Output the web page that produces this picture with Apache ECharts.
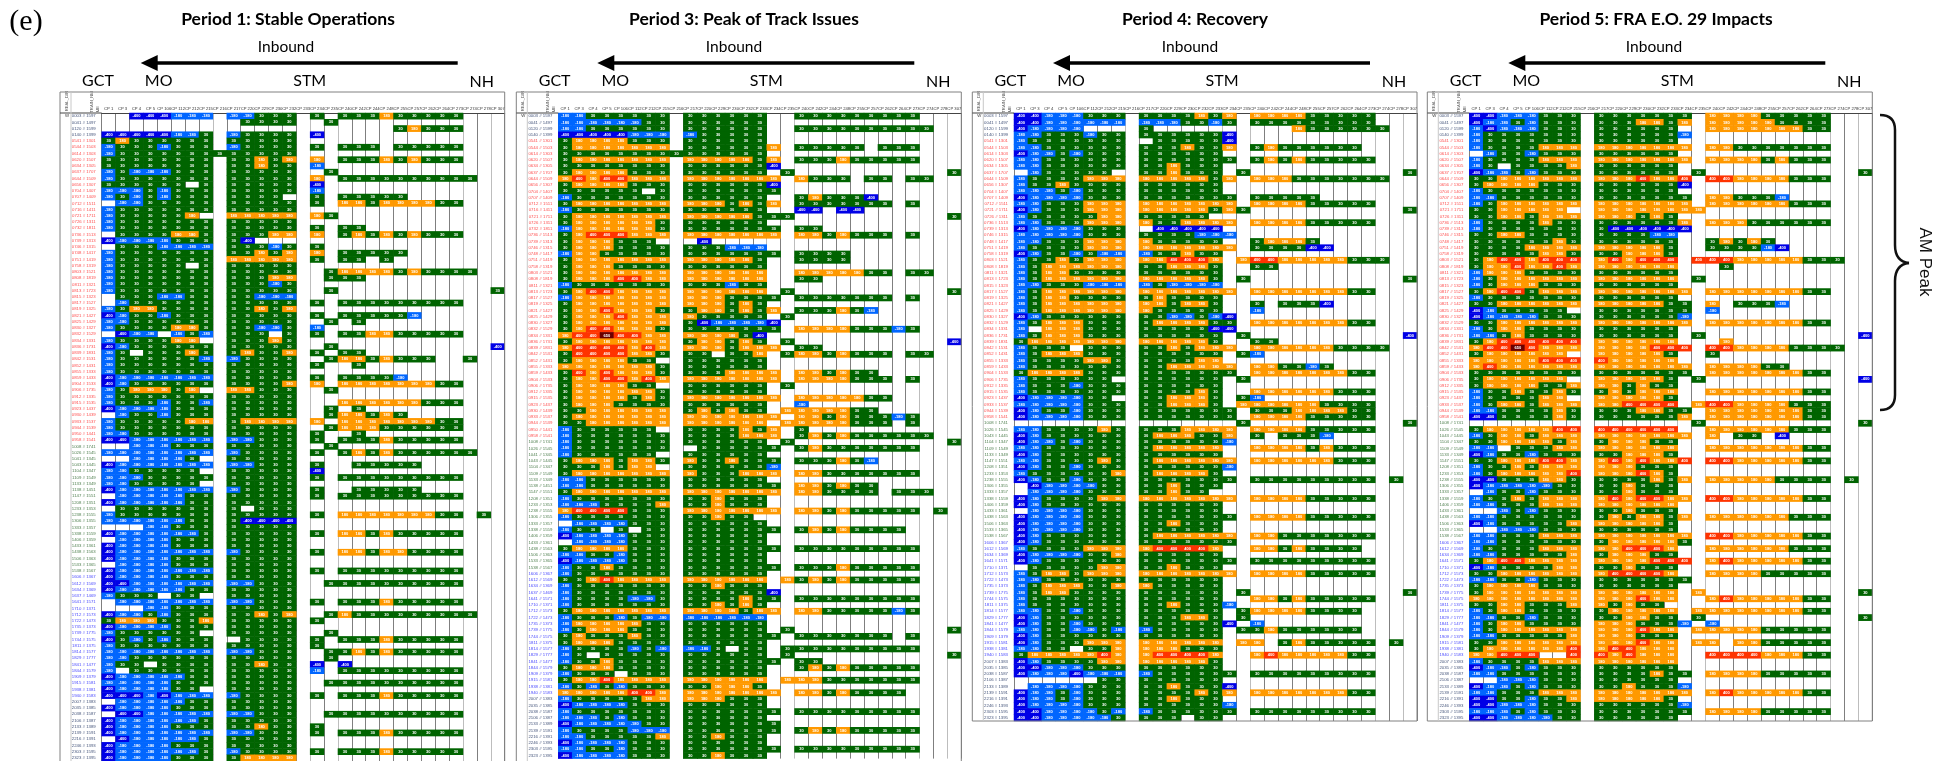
<!DOCTYPE html>
<html>
<head>
<meta charset="utf-8">
<title>Inbound delay heatmaps</title>
<script src="https://cdn.jsdelivr.net/npm/echarts@6/dist/echarts.min.js"></script>
<style>
  html, body { margin: 0; padding: 0; background: #fff; }
  #main { width: 1952px; height: 761px; }
</style>
</head>
<body>
<div id="main"></div>
<script>
const checkpoints = ["CP 1","CP 3","CP 4","CP 5","CP 106","CP 112","CP 212","CP 215","CP 216","CP 217","CP 220","CP 229","CP 230","CP 232","CP 233","CP 234","CP 235","CP 240","CP 242","CP 244","CP 248","CP 255","CP 257","CP 262","CP 264","CP 273","CP 274","CP 278","CP 307"];

// trains run in every period, periods 3, 4 and 5 skip a few of them
const trainsAll = ["0003 # 1597","0041 # 1497","0120 # 1599","0140 # 1399","0541 # 1301","0544 # 1503","0614 # 1303","0620 # 1507","0634 # 1305","0637 # 1707","0644 # 1509","0656 # 1307","0704 # 1407","0707 # 1409","0712 # 1511","0716 # 1411","0721 # 1711","0726 # 1311","0732 # 1811","0736 # 1513","0739 # 1313","0746 # 1315","0748 # 1417","0751 # 1419","0758 # 1319","0803 # 1521","0808 # 1819","0811 # 1321","0813 # 1723","0815 # 1323","0817 # 1527","0819 # 1325","0821 # 1427","0825 # 1429","0830 # 1327","0832 # 1529","0834 # 1331","0836 # 1731","0839 # 1831","0842 # 1531","0852 # 1431","0855 # 1333","0859 # 1433","0904 # 1533","0906 # 1735","0912 # 1335","0915 # 1535","0923 # 1437","0930 # 1439","0933 # 1537","0944 # 1539","0950 # 1441","0958 # 1541","1008 # 1741","1026 # 1545","1041 # 1345","1043 # 1445","1104 # 1347","1109 # 1549","1133 # 1349","1138 # 1451","1147 # 1551","1208 # 1351","1233 # 1353","1238 # 1555","1306 # 1355","1333 # 1357","1338 # 1559","1406 # 1359","1433 # 1361","1438 # 1563","1506 # 1363","1533 # 1365","1538 # 1567","1606 # 1367","1612 # 1569","1634 # 1369","1637 # 1469","1641 # 1571","1710 # 1371","1712 # 1573","1722 # 1473","1735 # 1373","1739 # 1775","1744 # 1575","1811 # 1375","1814 # 1577","1829 # 1777","1841 # 1477","1844 # 1579","1909 # 1379","1915 # 1581","1938 # 1381","1940 # 1583","2007 # 1383","2035 # 1385","2038 # 1587","2106 # 1387","2133 # 1389","2139 # 1591","2216 # 1391","2246 # 1393","2303 # 1595","2323 # 1395"];
const trainsP3 = trainsAll.filter(t => !t.startsWith("0815"));
const skippedLater = ["0716","0732","0930","0950","1041","1138","1637"];
const trainsP4 = trainsAll.filter(t => !skippedLater.includes(t.slice(0, 4)));

// one string per train, one letter per checkpoint (spaces are only for reading):
// d < -300, b -300..-100, g -100..120, o 120..300, r 300..500, x > 500, . no data.
// The printed numbers in the source cells are too small to read, so cells are read by colour band.
const period1 = [
"..dddbbb . bbggg. g . gggoggggg",
"........ . .gggg. . g",
"........ . ...... . . ....goggg",
"dddddbbg . bgggg. d",
"gogggggg . ggggg.",
"bgggbggg . bgggg. g . ggg.ggggg",
"bggggggg g ggggg.",
"gggggggg . ggogo. o . gggogoggg",
"gggggggg . ggogg. b",
"bgbbbggg . ggggg. . g",
"bggggggg . ggggg. o . ggggggggg g",
"gggggg.g . ggggg. d",
"bbbgbggg . ggggg. b",
"bgbgbggg . gggg.. g . ggggg",
".bbggggg . ggggg. g . oogoooogg",
"bggggggg . ggggg.",
"bgggggo. . ooooo. o g",
"bggggggg . ggggg.",
"bggggggg . ggggg. g . gg",
".ggggoog . gggoo. o . gogogoggg",
"dbbbbggg . gd....",
".gggbbbb . gggbg. g",
"bggggggg . ggogo. o . ggggg",
"bggggggg . ooooo. g . gg.g",
"bggggg.g . ggggg.",
"bggggggg . ggggg. . g oooogoggg g",
"bggggggg . gggoo. . g gg",
"bggggggg . gggbg.",
"bggggggg . ggggg. . g ......... ..g",
".gggbbgg . ggbbb.",
".bgggggg . ggggg. g . ggggggggg",
"bgoogggg . ggogo.",
"dbggbggg . ggggg. g . gggggb",
"bbgggggg . ggggg. . g .g",
"bggggoog . ggbbg. b",
".dbb.bgb . ggg.g. g . ggooggggg",
"bggggoo. . gggog.",
"dbgggggg . ggggg. . g ......... ..d",
"bg.gggog . goggo. g . gg",
"bggggggb . bgggg. . g oogoggg.. g",
"bggggggg . ggggg. g . .g",
"bggggggg . ggggg.",
"dbbbbbbb . ggggg. g . ggggb",
"dbgggggg . ggggo. o . ooooooogg",
"bgooogo. . ooggg. . g",
"bggggggg . ggggg.",
"bgggbggb . ggggg. . . ooooooggg",
"dbbbbggg . ggggg. . g .g",
".bggbggg . ggggg. . g oogog",
"bgggggoo . goooo. o . ooooooogg",
"bggggggg . ggggg. . g ooogggggg",
"bbgggggg . ggggg. g . .g",
"ddbbbbbb . bbggg. g . gggoggggg",
"..bbbggg . ggggg. . g",
"bbbbbbbb . bgggg. g . gogoggggg g",
"..bbbbg. . ggggg.",
"dbbbbbbb . bbggg. g . .ggggg",
"bbggggg. . ggggg. d",
"bbbggggg . ggggg. g . ggggggggg",
"bbggggg. . ggggg.",
"dbbbbbbb . bgggg. g . .ggggg",
".bbbbbgg . ggggg. g . ggggggggg",
"dbbbbbgg . ggggg.",
".ggggggg . g.ggg.",
"bggggggg . ggggg. g . ooooooogg .g",
"bbbbbbgg . gdddd.",
"...bbggg . ggggg.",
"dbbbbbbg . ggggg. g . oogoggggg",
".bbbbggg . ggggg.",
"dbbbbggg . ggggg.",
"dbbbbbbb . bgggg. g . oogoogggg",
"dbbbbggg . ggggg.",
".bbbbggg . ggggg.",
"dbbbbbbb . ggggg. g . ggggggggg",
"dbbbbggg . ggggg.",
"ddbbbbbb . bbggg. . g ggggggggg",
"dbbbbbgg . ggggg.",
"bggg.gg. . ggggg.",
".bbbbbbb . bbggg. g . gggoggggg",
"...bbggg . ggggg.",
"dbbgbggg . ggogo. . g ogggggggg g",
"gooogggo . ggggg. g",
"dbbbbggg . ggggg.",
"bgggggg. . ggggg. . g",
"dgbgbggg . .gggg. g . gggoggggg",
"bggggggg . ggggg. g",
"bbbbbbbb . bbggg. . g gogoggggg",
"bbgggggg . ggggg. . g",
"bgg.gggg . ggogg. d . d",
"b.gggggg . ggggg. b . ggggggggg",
"dbbbbbgg . ggggg.",
"bbbbbggg . ggggg. . g ggggggggg",
"dbbbbgg. . ggggg.",
"dddbdbbb . bgggg. g . gggoggggg",
".bbbbbgg . ggggg.",
"dbbbbggg . ggggg.",
".ddbbbbb . bbggg. . g ggggggggg",
"dbbbbbbg . ggggg.",
"dbbbbggg . ggogg. g",
"dbbbbbbb . bbggg. g . gggoggggg",
".dbbbbbg . ggggg.",
"dbbbbggg . ggggg.",
"dbbbbbbg . bgggg. g . gggoggggg",
"dbbbbggg . goooo."
];

const period3 = [
"bbgggggg . gggggg . . ggggggggg",
"bbbbbbgg . gggggg",
"bbgggggg . gggggg . . ggggggggg g",
"dddddbbb . bggggg",
"gooooggg . gggggg",
"gooooooo . gggggg o . ggggg.ggg",
"gggggggg g gggggg",
"gooooooo . ooooog o . gggoggggg",
"gggggggg . gggggg d",
"gooooggg . gggggg . g ......... ..g",
"ororrooo . oooooo o . oggg.gg.g g",
"gooooggg . gggggg d",
"gggggg.g . gggggg g",
"bggggggg . gggggg . . gogggd",
"gooooooo . ooogog o . ggggggg.g",
"bggggggg . gggggg . . dd.dd",
"gooooooo . ooooog g g ......... ..g",
"goooooog . gggggg",
"boooooog . gggggg g . gg",
"gorrrooo . oooooo o . oogoggg.g",
"goooggg. . .d....",
"gooogggg . gggbbb",
"booggggg . gggggg g . gggg",
"gooooooo . ooooog . . gggg",
"gooogggg . gggggg",
"gooooooo . oooooo . . ooooogg.g g",
"gooorroo . oooooo . . gg",
"bggggggg . gggbgg",
"gorroooo . oooooo . g ......... ..g",
"booooooo . oooggg g . ggggggg.g",
"gooooooo . ooogog",
"goorooog . googog o . gggogb",
"gooorooo . oggggg . g",
"gooooooo . gdbbbb d",
"gorrooog . gggggg g . oooogggbg",
"orrxrroo . oooogd",
"gooooooo . googog . g ......... ..d",
"orrrroro . ooogoo o . gg",
"grrrroog . gg.ggo . g oogoggg.g g",
"goooogg. . gggggg",
"ooooooog . gggggg",
"grorooog . gggooo o . oogogg",
"goorroro . oooooo o . ooooggg.g",
"goooogg. . gggggg . g",
"goooooog . gggggg",
"goooogog . oooooo o . ooooogg",
"gooogggg . gggggg . . b",
"ggoooooo . gogogg . o oooogg",
"gooooooo . oooooo o . oogogggbg",
"ggoooooo . oooooo . o ooooggg.g",
"bgggggg. . ggggog o . g",
"bggggggg . ggggoo o . gogoggggg g",
"bggggggg . gggggg . g ......... ..g",
"bggggggg . .ggggg g . goggggggg",
"bgggggg. . gggggg",
"gooogoog . oggogg g . gggogb",
"gggogoo. . gggggg b",
"gooooooo . ogggoo o . ooggggggg",
"bbgggggg . gggggg",
"bbgggggg . gggggg g . oogogg",
"gooooooo . oooooo o . oogggg.gg g",
"bggggggg . ggoggg",
"bbbggggo . ggoggg",
"orrrrggg . oooooo o . oogoggggg .g",
"bggggggg . ggogg.",
".bbbbggg . gggggg",
"bgg.g.gg . gggggg g . gogogggg.",
"dbbbbggg . gggggg",
".bbbbggg . gggggg",
"gooooggg . gggggg g . ggggggggg",
"bbggbggg . gggggg",
"dbbbbggg . gggggg",
"bggogggg . gggggg g . gggoggggg",
"bggggggg . gggggg",
"ggoroooo . oooooo . o gogoggggg",
"bggggggg . ggoggg",
"bggggggg . gggggg d",
"bggggbbg . ggggog g . ggggggggg",
"bggggggg . ggogog",
"gooooooo . oooogo o . oogggggbg",
"bgggbgbb . bbbbbb",
"booooogg . gggggg",
"bgoooggg . gggggg . g ......... ..g",
"gogggogg . gggggg g . ggggggg.g",
"gooogggg . gggggg",
"bggggbgb . bbg.gg . g ggggggggg",
"bg.ggggg . gggggg . g ......... ..g",
"bggogggg . gggggg g . gg",
"gooogggg . gggggg . . gogoggggg",
"bggg.ggg . gggggg",
"gooroooo . oooooo . o ooggggggg",
"bgbgbggg . ggooog",
"ooooorro . oooooo o . oogogggg.",
"bgggggoo . oooggg",
"dbbbbggg . gggggg",
"bggggggg . gggggg g . ggggggggg",
"bbbgbggg . gggggg",
"dbbbbbgg . gggggg g",
"bggggbbb . gggggg g . gogoggggg",
"bbgggggo . ggoggg",
"dbbbbggg . gggggg",
"bbggbggg . gggggg g . ggggggggg",
"dbbbbggg . ggoggg"
];

const period4 = [
"ddbbbggg . ggggog o . ooooggggg",
"ddbbbbbb . bbbggb g . ggggggggg",
"dbbbb... . g..... . . ...oggggg g",
"bbgggbgg . gggggg d",
"bggggggg . .ggggg d",
"bbgggggg . gggogg o . gogggggg.",
"dbbgbggg . gggggg",
"bbgggggg . gggggg g . gogoggggg",
"bbgggggg . ggoggg",
".bggggg. . ggoggg . g ......... ..g",
"bggggooo . ooooog o . ooogggggg g",
"bggogggg . gggggg",
"bbbgbggg . gggggg",
"dbbbbggg . gggggg g . ggggg",
"bbgggooo . oooooo o . ooooggggg",
"dbgggooo . ooooog o g ......... ..g",
"bgggggoo . ggggg.",
"bbgggooo . oggooo o . ooooggggg",
"dbbbbggg . .ddddd",
"bbbbbggg . ggggbb b",
"bbgggooo . oggggg . . gooog",
"bggggooo . oooooo o . ggggdd",
"dbggbgbb . bggogg",
"bggogooo . oorrro . o rrooooogg g",
"bgoooooo . ggooog . . gg",
"bgoogggg . gggggg",
"bgoooooo . ooooog . g ......... ..g",
"bbgggbbb . bgbbbb",
"bgoooooo . oooooo o . ooooooogg",
"bgoogggg . gogggg",
"bgoooooo . oogoog . . g.gggd",
"bgoooooo . oggggg . . b",
"dbgggggg . ggbbgb d",
"bgoooggg . goooog g . ooooooogg",
"b.oooggg . gggggd d",
"bgoooggg . gggggg . g ......... ..d",
"gooooooo . ooooog . . gg",
"bggg.ggg . ggogoo o . ooooooggg g",
"bgoooggg . gggggg . g b",
"bggggoog . ggggoo",
"bggggggg . ggoooo o . ooggbg",
"gooooggg . gggggg g . ooooooogg",
"bgggggg. . gggggg . g",
"bgggbggg . gggggg",
"bggggggg . ggggog . . ooooooggg",
"dbbbbgg. . ggooog . g b",
"bbbbbggg . ggooog . o ooooogggg",
"dbggbggg . gggggg g . gggoooogg",
"dbbbbggg . gggggg g . ooooggggg",
"........ . ...... . g ......... ..g",
"bbggggog . gggooo o . ooooggggg",
"dbgggggg . gooogg o . g.gggb",
"dbbgbggg . gggggg b",
"bbgggggg . gooooo . . oooogoggg",
"dbgggggg . gggggg",
"bbggggog . gooooo o . ooooooggg",
"dbggbggg . gggggg b",
"bggggggo . goooog",
"dbggbggg . gggggg g . ggggggggg .g",
".dbbbbgg . ggoggg",
".bbbbggg . ggogg.",
"dbggggoo . oooooo o . ooooggggg",
"dbgggggg . gggggg",
".bbbbggg . gggggg",
"dbbbbggg . gggggg g . ooooggggg",
"dbbbbggg . ggoggg",
"dbbbbggg . gggggg",
"dbgggggg . gooooo o . ooggggggg",
"dbgggggg . gggggg g",
"bggggooo . orrrro . . oogogggg.",
"dbbbbggo . gggggg",
"dbgggggg . gggggg g . ggggggggg",
".gggggoo . ggoggg",
"bgoogooo . oooooo o . ooooggggg",
"bbgggggg . gggggg",
"bgoooggo . oggggg",
"bgoogggg . gggggg . g ......... ..g",
"bggggggg . gggggg . . oogoggggg",
"bggggggg . ggoggg b",
"bbggbggg . gggggg . g oooogggg.",
"dbgggggg . gggoog . g",
"dbggbggg . gggggg d . b",
"bbggbbgb . bggggg . g gogggggg",
"dbgggggg . gggggg",
"dbgggooo . oooooo . o o.goggggg .g",
"bbgg.ggo . oooggg",
"goooooro . orrrro . . orooooogg",
"dbggggoo . ooooog",
"ddbbbggg . gggggg",
"dbbbdbbb . bggggg g . ggggggggg",
"......gg . gggggg",
".bbbbggg . ggoggg d",
"dbbgbggg . ggggog o . ooooooogg",
"dbbgbggg . ggoggg",
"dbbbbggg . gggggg b",
"ddbbbbgb . bggggg g . ggggggggg",
"ddbbbbbg . ggg.gg"
];

const period5 = [
"ddbbbggg . gggggg g . ooooggggg",
"dbbgbggg . gggoog o . ooooogggg",
"bdbbbggg . gggggg . . ooooooogg",
"bggggggg . gggggg b",
"bggggggg . gggggg",
"bggggooo . oooooo o . ooggggggg",
".bggbggg . gggggg",
"bggggooo . oooooo o . oooogoggg",
"bg.ggggo . gggggg",
"dbbgbggg . gggggg . g ......... ..g",
"ggoooooo . oooroo r . rrooooggg",
"gooooggg . gggggg d",
"bggggggg . gggggg",
"bbgggggg . gggggg g . oogggb",
"bgoooooo . oooooo o . ooooooggg",
"ggooooo. . oooooo o o",
"ggoogooo . ooogog",
"bggggogg . gggggg o . ooogggggg",
"bggggggg . gddddd d",
"ggoogggg . ggggbb",
"ggggggog . gggggg . . gogog",
"ggggoooo . ooooog . . ggggbd",
"gggggoog . ggooog",
"gorrorrr . ororrr . r rrooooogg g",
"goorooro . oooooo . . .g",
"booogggg . gggggg",
"bgoooooo . oooooo . g",
"bgoooggg . gggggg",
"gorrgooo . oooooo o . ooooooogg",
"bggggggg . gggggg",
"ggoooooo . ooooog g . o.gggb",
"dbggggg. . gggggg g . b",
"dbbbbggg . gggggg b",
"ggoooooo . oooooo o . ooooooogg",
"bgoogggg . gggggg",
"bbgogggg . gggggg . g ......... ..d",
"gorrrrrr . oooooo . . .o",
"orrxrooo . oooorr r . rrooooggg g",
"goooooo. . ooooog . . g",
"ooooorrr . rooooo",
"oroooooo . oooooo o . oooogg",
"gggggggg . gggggg g . ooooooogg",
"goooooo. . ooooog . g ......... ..d",
"gooooggo . oogogg",
"bggoggog . gogooo . . ooooooogg",
"bggggoo. . ooooog",
"bgoogooo . oorrrr . o rrooooggg",
"bbggggog . gggoog g . ooooooogg",
"ddggggog . gggggg o . ooooooogg",
"........ . ...... . g ......... ..g",
"gooooorr . rrrrrr . . ooooooggg",
"bgoogooo . oooooo o . o.gg.d",
"ggoooogo . gooogg",
"bb.gggoo . oooooo . . ooooooogg",
"dbggbggg . ggooog",
"ggooorro . ororoo r . rrooooogg",
"bggogooo . oooggg",
"bgooooor . ooorog",
"ddgggoog . ggggog o . ooooogggg .g",
"dbbbbbgg . ggoggg",
".bggbggg . ggoggg",
"bggogooo . ororro o . rrooooogg",
"bbgggooo . oooooo",
"..bgbggg . ggoggg",
"bbgggggg . gogoog o . ooooooggg",
"dbgggggo . ooooog",
"..bbbggg . gggggg",
"bbgggooo . oooooo o . rrooooogg",
"bbgggggg . gooooo g",
"bggggooo . oorrro . . ooooooggg",
"bbgggggo . gooogg",
"gorroooo . oooorr r . orooooogg",
"dbggggoo . ggoggg",
"ggoooooo . orrrro . . ooooggggg",
"bbggbggg . gggggg g",
"gooooggg . gggggg",
"gooooooo . oooooo . o ......... ..g",
"oooooooo . oooroo . . orooooogg",
"ggoogggo . ogogg.",
"bgoogggg . gooooo . o ooooooogg",
"bbggbggg . ggoogg . g ......... ..g",
"bgoogggg . oooggg b . b",
"bgoooooo . oooroo . o ooooggggg",
"bbgggggo . oooggg",
"ggoooooo . oooroo . o o.ooggggg",
"goooooor . orrooo",
"oorrr..r . rorooo . . rrrrooogg",
"bggggooo . oooooo",
"dbbgbggg . gggggg",
"bbgggggg . ggggog g . ooooggggg",
"..bbbggg . gggggg",
"dbbgbggg . ggoggg b",
"bbgggooo . oooooo o . orooooogg",
"ddggbggo . ooooog",
"ddbbbggg . gggggg b",
"bbbgbggg . gggggg g . ooooggggg",
"ddbbbbgg . gggggg"
];

// colour band to an estimated delay value, the visualMap turns it back into a colour
const bandValues = { d: -400, b: -180, g: 30, o: 180, r: 400, x: 650 };
const bandPieces = [
  { lt: -300, color: "#0000e6" },
  { gte: -300, lt: -100, color: "#0066ff" },
  { gte: -100, lt: 120, color: "#006400" },
  { gte: 120, lt: 300, color: "#ff9900" },
  { gte: 300, lt: 500, color: "#ff3300" },
  { gte: 500, color: "#6b0000" }
];

const titleFont = "Lato, 'Noto Sans', sans-serif";
const rowHeight = 6.268;
const colsWidth = 403;
const gridTop = 113;

const panels = [
  { title: "Period 1: Stable Operations", rows: period1, trains: trainsAll, x: 101.7, left: 60, titleX: 288, inboundX: 286, bottom: 770 },
  { title: "Period 3: Peak of Track Issues", rows: period3, trains: trainsP3, x: 558.3, left: 516.3, titleX: 744, inboundX: 734, bottom: 770 },
  { title: "Period 4: Recovery", rows: period4, trains: trainsP4, x: 1014, left: 972.3, titleX: 1195, inboundX: 1190, bottom: 721 },
  { title: "Period 5: FRA E.O. 29 Impacts", rows: period5, trains: trainsP4, x: 1469.3, left: 1427.3, titleX: 1656, inboundX: 1654, bottom: 721 }
];

function rowCells(row, rowIndex) {
  const chars = row.replace(/\s/g, "").padEnd(checkpoints.length, ".");
  const cells = [];
  for (let c = 0; c < checkpoints.length; c++) {
    const v = bandValues[chars[c]];
    if (v !== undefined) cells.push([c, rowIndex, v]);
  }
  return cells;
}

function trainColor(value) {
  const t = value.slice(0, 4);
  if (t < "0500") return "#44547a";
  if (t < "1000") return "#ff4d4d";
  if (t < "1600") return "#4f7f4f";
  if (t < "2000") return "#4a4aff";
  return "#44547a";
}

const lightLines = [8, 15, 17, 26, 28];
const splitColors = [];
for (let i = 0; i <= checkpoints.length; i++) {
  splitColors.push(lightLines.includes(i) ? "#bdbdbd" : "#7f7f7f");
}

const grids = [], xAxes = [], yAxes = [], series = [], graphics = [];

function addText(text, x, y, size, extra) {
  graphics.push({
    type: "text", x: x, y: y, silent: true,
    style: Object.assign({
      text: text, fontSize: size, fontFamily: titleFont, fill: "#000",
      align: "center", verticalAlign: "middle"
    }, extra || {})
  });
}

panels.forEach((p, i) => {
  grids.push({ left: p.x, top: gridTop, width: colsWidth, height: p.rows.length * rowHeight });
  xAxes.push({
    type: "category", gridIndex: i, position: "top", data: checkpoints,
    axisLine: { show: true, lineStyle: { color: "#444", width: 1 } },
    axisTick: { show: false },
    axisLabel: { interval: 0, fontSize: 4.2, margin: 2, color: "#333", fontFamily: "Liberation Sans" },
    splitLine: { show: true, interval: 0, lineStyle: { color: splitColors, width: 1 } }
  });
  yAxes.push({
    type: "category", gridIndex: i, inverse: true, data: p.trains,
    axisLine: { show: false }, axisTick: { show: false },
    axisLabel: { interval: 0, fontSize: 4.3, margin: 6, color: trainColor, fontFamily: "Liberation Sans" },
    splitLine: { show: false }
  });
  series.push({
    type: "heatmap", xAxisIndex: i, yAxisIndex: i, progressive: 0,
    data: p.rows.flatMap(rowCells),
    label: { show: true, fontSize: 4, color: "#fff", fontFamily: "Liberation Sans", fontWeight: "bold" },
    itemStyle: { borderWidth: 0 },
    emphasis: { disabled: true }
  });

  // frame of the table and its header row
  graphics.push({ type: "rect", silent: true, z: 5,
    shape: { x: p.left, y: 92, width: p.x + colsWidth - p.left, height: p.bottom - 92 },
    style: { fill: "none", stroke: "#808080", lineWidth: 1 } });
  graphics.push({ type: "line", silent: true, z: 5,
    shape: { x1: p.left, y1: gridTop, x2: p.x, y2: gridTop }, style: { stroke: "#444", lineWidth: 1 } });
  graphics.push({ type: "line", silent: true, z: 5,
    shape: { x1: p.left + 11, y1: 92, x2: p.left + 11, y2: p.bottom }, style: { stroke: "#c8c8c8", lineWidth: 1 } });
  const small = { fontFamily: "Liberation Sans", fill: "#555", fontSize: 4.2, align: "center", verticalAlign: "middle" };
  graphics.push({ type: "text", silent: true, x: p.left + 7, y: 101, rotation: Math.PI / 2,
    style: Object.assign({ text: "REAL_DIR" }, small) });
  graphics.push({ type: "text", silent: true, x: p.x - 10, y: 102, rotation: Math.PI / 2,
    style: Object.assign({ text: "TRAIN_NM" }, small) });
  graphics.push({ type: "text", silent: true, x: p.x - 4, y: 109, rotation: Math.PI / 2,
    style: Object.assign({ text: "ME" }, small) });
  addText("W", p.left + 7, 116, 4.3, { fontFamily: "Liberation Sans", fill: "#333" });

  // captions above the table
  addText(p.title, p.titleX, 19, 17.5, { fontWeight: "bold" });
  addText("Inbound", p.inboundX, 47, 15.5);
  graphics.push({ type: "line", silent: true,
    shape: { x1: p.x + 356, y1: 63, x2: p.x + 50, y2: 63 }, style: { stroke: "#000", lineWidth: 3.4 } });
  graphics.push({ type: "polygon", silent: true,
    shape: { points: [[p.x + 39, 63], [p.x + 56, 55], [p.x + 56, 71]] }, style: { fill: "#000" } });
  addText("GCT", p.x - 3.7, 81, 16);
  addText("MO", p.x + 57, 81, 16);
  addText("STM", p.x + 208, 81, 16);
  addText("NH", p.x + 380, 82, 16);
});

addText("(e)", 26, 22, 30, { fontFamily: "Liberation Serif" });

// AM peak brace right of the last table
const braceStyle = { fill: "none", stroke: "#111", lineWidth: 2.5 };
[
  [1880, 115, 1895, 130, 1890, 115, 1895, 120],
  [1895, 245, 1909, 263, 1895, 257, 1900, 262],
  [1909, 263, 1895, 281, 1900, 264, 1895, 269],
  [1895, 395, 1880, 410, 1895, 405, 1890, 410]
].forEach(b => {
  graphics.push({ type: "bezierCurve", silent: true,
    shape: { x1: b[0], y1: b[1], x2: b[2], y2: b[3], cpx1: b[4], cpy1: b[5], cpx2: b[6], cpy2: b[7] },
    style: braceStyle });
});
graphics.push({ type: "line", silent: true, shape: { x1: 1895, y1: 130, x2: 1895, y2: 245 }, style: braceStyle });
graphics.push({ type: "line", silent: true, shape: { x1: 1895, y1: 281, x2: 1895, y2: 395 }, style: braceStyle });
graphics.push({ type: "text", silent: true, x: 1925, y: 262, rotation: -Math.PI / 2,
  style: { text: "AM Peak", fontSize: 17, fontFamily: "Liberation Sans", fill: "#111", align: "center", verticalAlign: "middle" } });

const myChart = echarts.init(document.getElementById("main"));
myChart.setOption({
  animation: false,
  backgroundColor: "#fff",
  grid: grids,
  xAxis: xAxes,
  yAxis: yAxes,
  visualMap: { type: "piecewise", show: false, seriesIndex: [0, 1, 2, 3], dimension: 2, pieces: bandPieces },
  series: series,
  graphic: { elements: graphics }
});
</script>
</body>
</html>
